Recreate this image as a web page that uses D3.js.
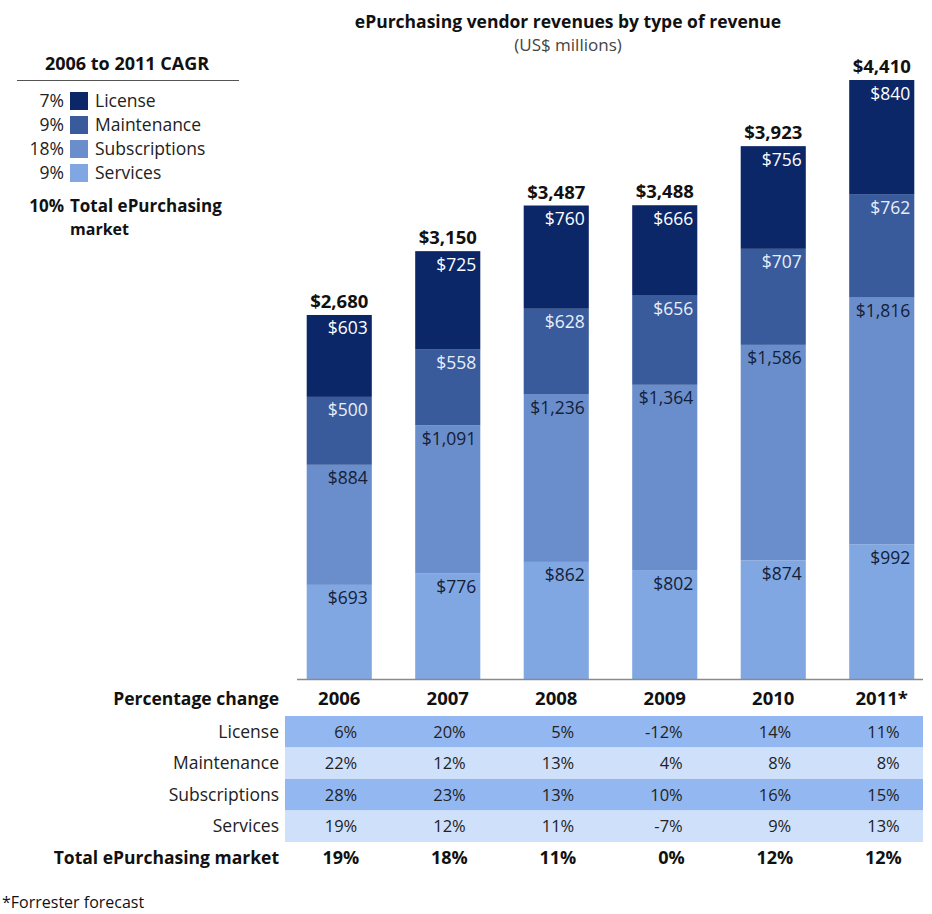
<!DOCTYPE html>
<html>
<head>
<meta charset="utf-8">
<script src="https://cdn.jsdelivr.net/npm/d3@7"></script>
<style>
  body { margin: 0; background: #fff; }
  svg { font-family: "Open Sans", "Noto Sans", sans-serif; }
</style>
</head>
<body>
<div class="content"></div>
<script>
// data
var years = ["2006", "2007", "2008", "2009", "2010", "2011*"];
var seriesNames = ["Services", "Subscriptions", "Maintenance", "License"];
var services      = [693, 776, 862, 802, 874, 992];
var subscriptions = [884, 1091, 1236, 1364, 1586, 1816];
var maintenance   = [500, 558, 628, 656, 707, 762];
var license       = [603, 725, 760, 666, 756, 840];
var totals        = [2680, 3150, 3487, 3488, 3923, 4410];

var cagrNames  = ["License", "Maintenance", "Subscriptions", "Services"];
var cagrValues = ["7%", "9%", "18%", "9%"];
var cagrTotal  = "10%";

var tableRows = ["License", "Maintenance", "Subscriptions", "Services"];
var pctLicense       = ["6%", "20%", "5%", "-12%", "14%", "11%"];
var pctMaintenance   = ["22%", "12%", "13%", "4%", "8%", "8%"];
var pctSubscriptions = ["28%", "23%", "13%", "10%", "16%", "15%"];
var pctServices      = ["19%", "12%", "11%", "-7%", "9%", "13%"];
var pctTotal         = ["19%", "18%", "11%", "0%", "12%", "12%"];

var colors = {
  "License": "#0c2768",
  "Maintenance": "#395b9b",
  "Subscriptions": "#6a8ecb",
  "Services": "#80a7e2"
};
var labelColor = {
  "License": "#ffffff",
  "Maintenance": "#e8eefa",
  "Subscriptions": "#142038",
  "Services": "#142038"
};

var width = 932, height = 914;

var svg = d3.select(".content")
    .append("svg")
    .attr("width", width)
    .attr("height", height);

// scales
var x = d3.scaleBand()
    .domain(years)
    .range([285, 936])
    .paddingInner(0.4)
    .paddingOuter(0.2);

var y = d3.scaleLinear()
    .domain([0, 4410])
    .range([679, 80]);

// build table for stack
var table = years.map(function(yr, i) {
  return {
    year: yr,
    Services: services[i],
    Subscriptions: subscriptions[i],
    Maintenance: maintenance[i],
    License: license[i],
    total: totals[i]
  };
});

var stacked = d3.stack().keys(seriesNames)(table);

// title
svg.append("text")
    .attr("x", 568).attr("y", 28)
    .attr("text-anchor", "middle")
    .style("font-weight", "bold")
    .style("font-size", "17.5px")
    .attr("fill", "#111")
    .text("ePurchasing vendor revenues by type of revenue");
svg.append("text")
    .attr("x", 568).attr("y", 51)
    .attr("text-anchor", "middle")
    .style("font-size", "17px")
    .attr("fill", "#444")
    .text("(US$ millions)");

// bars
var layers = svg.append("g")
    .selectAll("g")
    .data(stacked)
    .enter().append("g")
    .attr("fill", function(d) { return colors[d.key]; });

layers.selectAll("rect")
    .data(function(d) { return d; })
    .enter().append("rect")
    .attr("x", function(d) { return x(d.data.year); })
    .attr("width", x.bandwidth())
    .attr("y", function(d) { return y(d[1]); })
    .attr("height", function(d) { return y(d[0]) - y(d[1]); });

// segment labels
stacked.forEach(function(layer) {
  svg.append("g")
      .selectAll("text")
      .data(layer)
      .enter().append("text")
      .attr("x", function(d) { return x(d.data.year) + x.bandwidth() - 4; })
      .attr("y", function(d) { return y(d[1]) + 19.5; })
      .attr("text-anchor", "end")
      .style("font-size", "17.5px")
      .attr("fill", labelColor[layer.key])
      .text(function(d) { return "$" + d3.format(",")(d.data[layer.key]); });
});

// totals
svg.append("g")
    .selectAll("text")
    .data(table)
    .enter().append("text")
    .attr("x", function(d) { return x(d.year) + x.bandwidth() / 2; })
    .attr("y", function(d) { return y(d.Services + d.Subscriptions + d.Maintenance + d.License) - 7; })
    .attr("text-anchor", "middle")
    .style("font-weight", "bold")
    .style("font-size", "18.5px")
    .attr("fill", "#111")
    .text(function(d) { return "$" + d3.format(",")(d.total); });

// baseline
svg.append("line")
    .attr("x1", 297).attr("x2", 923)
    .attr("y1", y(0) + 0.5).attr("y2", y(0) + 0.5)
    .attr("stroke", "#8a8a8a")
    .attr("stroke-width", 1.5);

// legend
var legend = svg.append("g");
legend.append("text")
    .attr("x", 127).attr("y", 70)
    .attr("text-anchor", "middle")
    .style("font-weight", "bold")
    .style("font-size", "18px")
    .attr("fill", "#111")
    .text("2006 to 2011 CAGR");
legend.append("line")
    .attr("x1", 17).attr("x2", 239)
    .attr("y1", 80.5).attr("y2", 80.5)
    .attr("stroke", "#555").attr("stroke-width", 1);

var legendRow = legend.selectAll("g.row")
    .data(cagrNames)
    .enter().append("g")
    .attr("class", "row")
    .attr("transform", function(d, i) { return "translate(0," + (101 + i * 24) + ")"; });
legendRow.append("text")
    .attr("x", 64).attr("y", 6)
    .attr("text-anchor", "end")
    .style("font-size", "17.5px")
    .attr("fill", "#222")
    .text(function(d, i) { return cagrValues[i]; });
legendRow.append("rect")
    .attr("x", 70).attr("y", -9)
    .attr("width", 18).attr("height", 18)
    .attr("fill", function(d) { return colors[d]; });
legendRow.append("text")
    .attr("x", 95).attr("y", 6)
    .style("font-size", "17.5px")
    .attr("fill", "#222")
    .text(function(d) { return d; });

legend.append("text")
    .attr("x", 64).attr("y", 212)
    .attr("text-anchor", "end")
    .style("font-weight", "bold")
    .style("font-size", "17px")
    .attr("fill", "#111")
    .text(cagrTotal);
legend.append("text")
    .attr("x", 70).attr("y", 212)
    .style("font-weight", "bold")
    .style("font-size", "17px")
    .attr("fill", "#111")
    .text("Total ePurchasing");
legend.append("text")
    .attr("x", 70).attr("y", 235)
    .style("font-weight", "bold")
    .style("font-size", "16px")
    .attr("fill", "#111")
    .text("market");

// percentage change table
var rowH = 31.5, tableTop = 716;
var pctRows = [pctLicense, pctMaintenance, pctSubscriptions, pctServices];
var bandFill = ["#93b8f1", "#cfe0fb", "#93b8f1", "#cfe0fb"];

var tbl = svg.append("g").attr("class", "pct-table");

tbl.append("text")
    .attr("x", 279).attr("y", 705)
    .attr("text-anchor", "end")
    .style("font-weight", "bold")
    .style("font-size", "17.5px")
    .attr("fill", "#111")
    .text("Percentage change");

tbl.selectAll("text.year")
    .data(years)
    .enter().append("text")
    .attr("class", "year")
    .attr("x", function(d) { return x(d) + x.bandwidth() / 2; })
    .attr("y", 705)
    .attr("text-anchor", "middle")
    .style("font-weight", "bold")
    .style("font-size", "18.5px")
    .attr("fill", "#111")
    .text(function(d) { return d; });

var rowsG = tbl.selectAll("g.trow")
    .data(tableRows)
    .enter().append("g")
    .attr("class", "trow")
    .attr("transform", function(d, i) { return "translate(0," + (tableTop + i * rowH) + ")"; });

rowsG.append("rect")
    .attr("x", 285).attr("y", 0)
    .attr("width", 923 - 285).attr("height", rowH)
    .attr("fill", function(d, i) { return bandFill[i]; });

rowsG.append("text")
    .attr("x", 279).attr("y", rowH / 2 + 6)
    .attr("text-anchor", "end")
    .style("font-size", "17.5px")
    .attr("fill", "#222")
    .text(function(d) { return d; });

rowsG.each(function(name, i) {
  d3.select(this).selectAll("text.val")
      .data(pctRows[i])
      .enter().append("text")
      .attr("class", "val")
      .attr("x", function(d, j) { return x(years[j]) + x.bandwidth() / 2 + 18; })
      .attr("y", rowH / 2 + 6)
      .attr("text-anchor", "end")
      .style("font-size", "16.5px")
      .attr("fill", "#222")
      .text(function(d) { return d; });
});

tbl.append("text")
    .attr("x", 279).attr("y", 864)
    .attr("text-anchor", "end")
    .style("font-weight", "bold")
    .style("font-size", "17.5px")
    .attr("fill", "#111")
    .text("Total ePurchasing market");

tbl.selectAll("text.tot")
    .data(pctTotal)
    .enter().append("text")
    .attr("class", "tot")
    .attr("x", function(d, j) { return x(years[j]) + x.bandwidth() / 2 + 20; })
    .attr("y", 864)
    .attr("text-anchor", "end")
    .style("font-weight", "bold")
    .style("font-size", "18px")
    .attr("fill", "#111")
    .text(function(d) { return d; });

// footnote
svg.append("text")
    .attr("x", 2).attr("y", 908)
    .style("font-size", "16px")
    .attr("fill", "#111")
    .text("*Forrester forecast");
</script>
</body>
</html>
